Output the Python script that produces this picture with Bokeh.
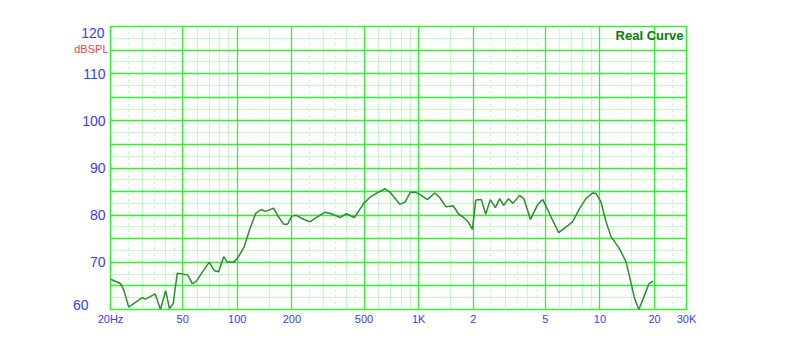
from bokeh.plotting import figure
from bokeh.models import Range1d, FixedTicker, Grid, Label
from bokeh.embed import file_html
from bokeh.resources import INLINE

# ---- data ----
freq_hz = [20, 22.7, 23.7, 25.2, 29.9, 31.2, 35.3, 37.7, 40.3, 42.3, 44.3, 46.7,
           50.5, 53.3, 56.5, 59.3, 65.4, 70, 75, 78.9, 84.2, 88, 95.2, 100.1,
           109.2, 116.7, 126.3, 135.4, 143, 158.7, 169, 180.3, 189.5, 200, 211,
           226.6, 251.5, 268, 304, 330, 369, 399, 442, 499, 543, 601, 653, 694,
           788, 843, 898, 956, 1018, 1117, 1229, 1310, 1413, 1550, 1651, 1759,
           1874, 1981, 2066, 2219, 2344, 2486, 2650, 2798, 2942, 3135, 3310,
           3601, 3804, 4139, 4540, 4842, 5379, 5922, 6364, 7063, 7687, 8366,
           9106, 9499, 10131, 10802, 11518, 12801, 13933, 14855, 15500, 16389,
           17630, 18637, 19625]
spl_db = [66.4, 65.5, 64.1, 60.5, 62.5, 62.2, 63.3, 60.0, 64.0, 60.2, 61.2, 67.7,
          67.5, 67.3, 65.5, 65.9, 68.4, 70.0, 68.2, 68.0, 71.2, 70.1, 70.0, 70.8,
          73.3, 76.8, 80.4, 81.2, 80.8, 81.5, 79.6, 78.1, 78.1, 79.8, 80.0,
          79.3, 78.6, 79.3, 80.6, 80.3, 79.5, 80.3, 79.5, 82.5, 83.9, 84.9, 85.6, 84.9,
          82.3, 82.8, 84.8, 84.9, 84.4, 83.3, 84.7, 83.7, 81.8, 82.0, 80.4, 79.6,
          78.6, 77.0, 83.2, 83.3, 80.2, 83.3, 81.6, 83.5, 82.1, 83.5, 82.5,
          84.2, 83.5, 79.1, 82.3, 83.3, 79.6, 76.3, 77.2, 78.6, 81.3, 83.5,
          84.7, 84.6, 82.8, 78.6, 75.4, 72.9, 70.1, 65.5, 62.4, 60.0,
          63.1, 65.5, 66.0]

x_ticks = [20, 50, 100, 200, 500, 1000, 2000, 5000, 10000, 20000, 30000]
x_tick_labels = ["20Hz", "50", "100", "200", "500", "1K", "2", "5", "10", "20", "30K"]
y_ticks = [60, 70, 80, 90, 100, 110, 120]
y_major_grid = [65, 70, 75, 80, 85, 90, 95, 100, 105, 110, 115]
y_minor_grid = [62.5, 67.5, 72.5, 77.5, 82.5, 87.5, 92.5, 97.5, 102.5, 107.5, 112.5, 117.5]
x_major_grid = [50, 100, 200, 500, 1000, 2000, 5000, 10000, 20000]
x_minor_solid = [30, 40, 60, 70, 80, 90, 150, 300, 400, 600, 700, 800, 900,
                 1500, 3000, 4000, 6000, 7000, 8000, 9000, 15000]
x_minor_dotted = [25, 35, 45, 250, 350, 450, 2500, 3500, 4500, 25000]

FONT = "Liberation Sans"
BLUE = "#3a3aff"
GRID_MAJOR = "#33ee33"
GRID_MINOR = "#c8f8c8"

p = figure(width=800, height=359, x_axis_type="log", output_backend="svg",
           toolbar_location=None, x_range=Range1d(20, 30000), y_range=Range1d(60, 120),
           min_border_left=110, min_border_right=114, min_border_top=26,
           min_border_bottom=50, background_fill_color="white",
           border_fill_color="white", outline_line_color=GRID_MAJOR,
           outline_line_width=1.5)

p.xgrid.visible = False
p.ygrid.visible = False

for ticks, dim, color, dash, w in [
    (x_minor_solid, 0, GRID_MINOR, "solid", 1.2),
    (x_minor_dotted, 0, "#bdf2bd", "2 4", 1.2),
    (y_minor_grid, 1, GRID_MINOR, "solid", 1.2),
    (x_major_grid, 0, GRID_MAJOR, "solid", 1.3),
    (y_major_grid, 1, GRID_MAJOR, "solid", 1.3),
]:
    g = Grid(dimension=dim, ticker=FixedTicker(ticks=ticks), grid_line_color=color,
             grid_line_dash=dash, grid_line_width=w)
    p.add_layout(g)

xa = p.xaxis[0]
xa.ticker = FixedTicker(ticks=x_ticks)
xa.major_label_overrides = {t: l for t, l in zip(x_ticks, x_tick_labels)}
xa.axis_line_color = None
xa.major_tick_line_color = None
xa.minor_tick_line_color = None
xa.major_tick_out = 0
xa.major_label_standoff = 3
xa.major_label_text_color = BLUE
xa.major_label_text_font = FONT
xa.major_label_text_font_size = "11px"

ya = p.yaxis[0]
ya.ticker = FixedTicker(ticks=y_ticks)
ya.major_label_overrides = {y_ticks[0]: "", y_ticks[-1]: ""}
ya.axis_line_color = None
ya.major_tick_line_color = None
ya.minor_tick_line_color = None
ya.major_tick_out = 0
ya.major_label_standoff = 5
ya.major_label_text_color = BLUE
ya.major_label_text_font = FONT
ya.major_label_text_font_size = "14px"

# end labels of the y scale (nudged inside the frame, as in the original) and unit
p.add_layout(Label(x=63, y=261, x_units="screen", y_units="screen", text="dBSPL",
                   text_align="right", text_baseline="middle", text_color="#ff3a3a",
                   text_font=FONT, text_font_size="11px"), "left")
p.add_layout(Label(x=82, y=276.5, x_units="screen", y_units="screen", text=str(y_ticks[-1]),
                   text_align="right", text_baseline="middle", text_color=BLUE,
                   text_font=FONT, text_font_size="14px"), "left")
p.add_layout(Label(x=82, y=4.5, x_units="screen", y_units="screen", text=str(y_ticks[0]),
                   text_align="right", text_baseline="middle", text_color=BLUE,
                   text_font=FONT, text_font_size="14px"), "left")

p.add_layout(Label(x=x_ticks[-1], y=y_ticks[-1], text="Real Curve", x_offset=-3, y_offset=-9,
                   text_align="right", text_baseline="middle", text_color="#0b7a0b",
                   text_font=FONT, text_font_size="13px", text_font_style="bold"))

p.line(freq_hz, spl_db, line_color="#2e8b2e", line_width=1.5)

open("out.html", "w").write(file_html(p, INLINE))
